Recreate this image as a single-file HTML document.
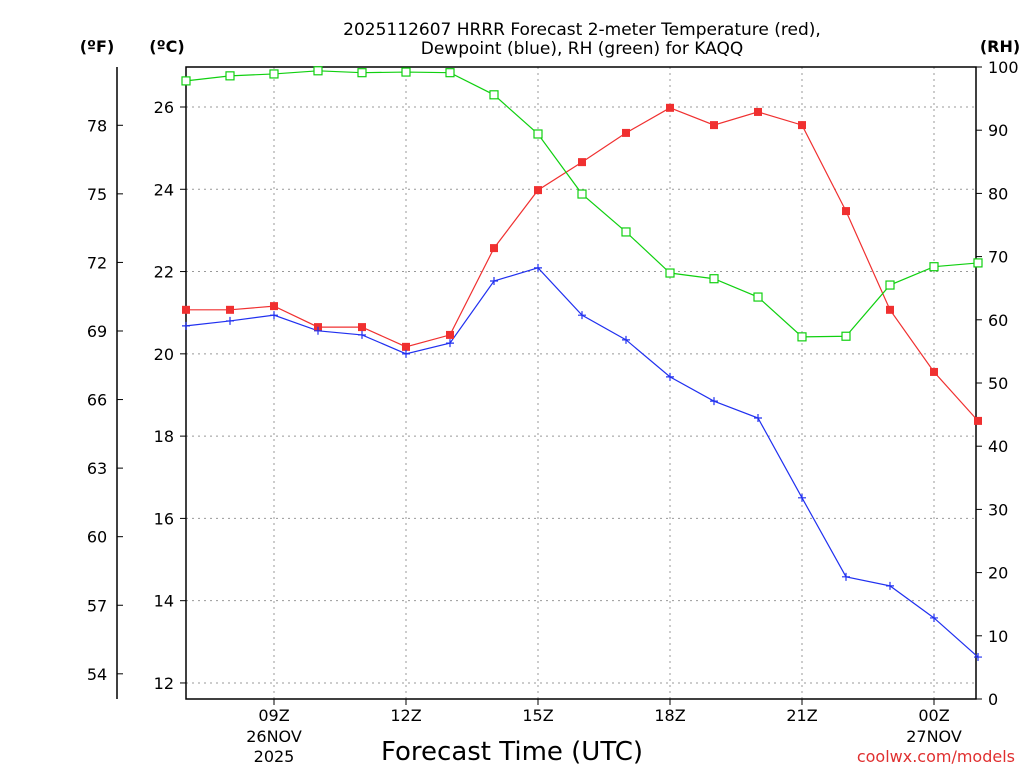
<!DOCTYPE html>
<html><head><meta charset="utf-8"><style>
html,body{margin:0;padding:0;background:#fff;}
svg{display:block;font-family:"DejaVu Sans","Liberation Sans",sans-serif;}
</style></head><body>
<svg id="chart" width="1024" height="768" viewBox="0 0 1024 768">
<text x="582" y="35" font-size="17" text-anchor="middle">2025112607 HRRR Forecast 2-meter Temperature (red),</text>
<text x="582" y="54" font-size="17" text-anchor="middle">Dewpoint (blue), RH (green) for KAQQ</text>
<text x="97" y="52" font-size="16" font-weight="bold" text-anchor="middle">(ºF)</text>
<text x="167" y="52" font-size="16" font-weight="bold" text-anchor="middle">(ºC)</text>
<text x="1000" y="52" font-size="16" font-weight="bold" text-anchor="middle">(RH)</text>
<text x="512" y="760" font-size="26" text-anchor="middle">Forecast Time (UTC)</text>
<text x="1015" y="762" font-size="16" fill="#e03030" text-anchor="end">coolwx.com/models</text>
<g id="grid"></g><g id="axes"></g><g id="series"></g>
</svg>
<script>
const hours=[7,8,9,10,11,12,13,14,15,16,17,18,19,20,21,22,23,24,25];
const tempC=[21.07,21.07,21.16,20.65,20.65,20.17,20.46,22.57,23.98,24.66,25.37,25.98,25.56,25.88,25.56,23.47,21.07,19.56,18.37];
const dewC=[20.68,20.80,20.94,20.56,20.46,20.0,20.26,21.77,22.09,20.94,20.34,19.44,18.85,18.44,16.50,14.58,14.36,13.58,12.63];
const rh=[97.8,98.6,98.9,99.4,99.1,99.2,99.1,95.6,89.4,79.9,73.9,67.4,66.5,63.6,57.3,57.4,65.5,68.4,69.0];
const cTicks=[12,14,16,18,20,22,24,26];
const fTicks=[54,57,60,63,66,69,72,75,78];
const rhTicks=[0,10,20,30,40,50,60,70,80,90,100];
const xTickHours=[9,12,15,18,21,24];
const xTickLabels=["09Z","12Z","15Z","18Z","21Z","00Z"];
const xSub=["26NOV","","","","","27NOV"];
const xSub2=["2025","","","","",""];
const NS="http://www.w3.org/2000/svg";
const L=186,R=976,T=67,B=699;
const xs=h=>L+(h-7)*44;
const yc=c=>107+(26-c)*41.14;
const yf=f=>yc((f-32)*5/9);
const yr=r=>B-r*(B-T)/100;
function mk(parent,tag,attrs,text){const e=document.createElementNS(NS,tag);for(const k in attrs)e.setAttribute(k,attrs[k]);if(text!==undefined)e.textContent=text;document.getElementById(parent).appendChild(e);return e;}
cTicks.forEach(c=>{const e=mk('grid','line',{x1:L,x2:R,y1:yc(c),y2:yc(c),stroke:'#999','stroke-dasharray':'2,4'});

});
xTickHours.forEach(h=>{const e=mk('grid','line',{x1:xs(h),x2:xs(h),y1:T,y2:B,stroke:'#999','stroke-dasharray':'2,4'});

});
let f=mk('axes','rect',{x:L,y:T,width:R-L,height:B-T,fill:'none',stroke:'#000','stroke-width':1.5});


let fl=mk('axes','line',{x1:117,x2:117,y1:T,y2:B,stroke:'#000','stroke-width':1.5});


cTicks.forEach(c=>{mk('axes','line',{x1:L-6,x2:L,y1:yc(c),y2:yc(c),stroke:'#000'});
const t=mk('axes','text',{x:L-12,y:yc(c)+6,'font-size':16,'text-anchor':'end'},String(c));

});
fTicks.forEach(v=>{mk('axes','line',{x1:117,x2:123,y1:yf(v),y2:yf(v),stroke:'#000'});
const t=mk('axes','text',{x:97,y:yf(v)+6,'font-size':16,'text-anchor':'middle'},String(v));

});
rhTicks.forEach(v=>{mk('axes','line',{x1:R,x2:R+6,y1:yr(v),y2:yr(v),stroke:'#000'});
const t=mk('axes','text',{x:R+12,y:yr(v)+6,'font-size':16},String(v));

});
xTickHours.forEach((h,i)=>{mk('axes','line',{x1:xs(h),x2:xs(h),y1:B,y2:B+6,stroke:'#000'});
const t=mk('axes','text',{x:xs(h),y:721,'font-size':16,'text-anchor':'middle'},xTickLabels[i]);


if(xSub[i]){const s=mk('axes','text',{x:xs(h),y:742,'font-size':16,'text-anchor':'middle'},xSub[i]);

}
if(xSub2[i]){const s=mk('axes','text',{x:xs(h),y:762,'font-size':16,'text-anchor':'middle'},xSub2[i]);

}});
function line(vals,yfn,color,name){const pts=vals.map((v,i)=>xs(hours[i])+','+yfn(v)).join(' ');
const p=mk('series','polyline',{points:pts,fill:'none',stroke:color,'stroke-width':1.2});

}
line(tempC,yc,'#f03030','temperature');
line(dewC,yc,'#2030f0','dewpoint');
line(rh,yr,'#10d010','rh');
tempC.forEach((v,i)=>{const m=mk('series','rect',{x:xs(hours[i])-4,y:yc(v)-4,width:8,height:8,fill:'#f03030'});

});
dewC.forEach((v,i)=>{const x=xs(hours[i]),y=yc(v);const m=mk('series','path',{d:`M${x-4},${y}H${x+4}M${x},${y-4}V${y+4}`,stroke:'#2030f0','stroke-width':1.2});

});
rh.forEach((v,i)=>{const m=mk('series','rect',{x:xs(hours[i])-4,y:yr(v)-4,width:8,height:8,fill:'#fff',stroke:'#10d010','stroke-width':1.2});

});
</script>
</body></html>
